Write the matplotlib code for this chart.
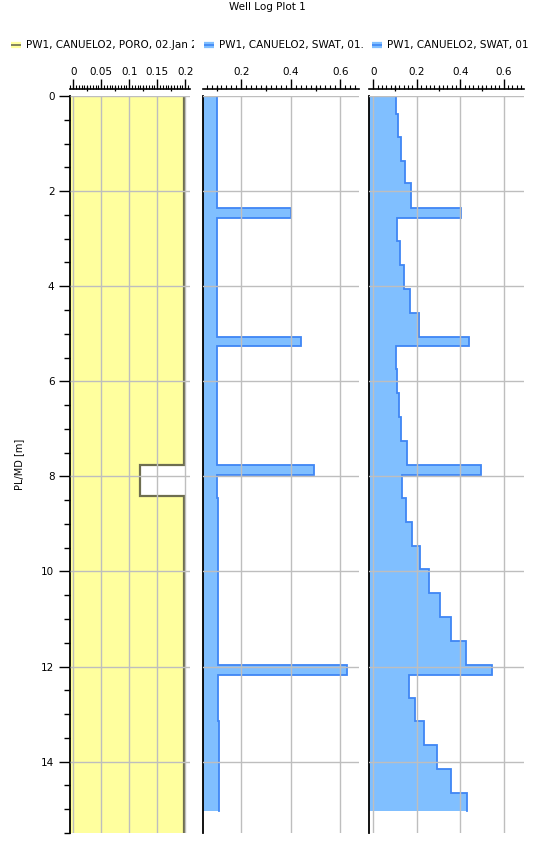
import numpy as np
import matplotlib
matplotlib.use("Agg")
import matplotlib.pyplot as plt
import matplotlib.transforms as mtransforms
from matplotlib.ticker import MultipleLocator, FixedLocator, FuncFormatter

plt.rcParams['font.family'] = ['DejaVu Sans']

# ---------------- data ----------------
title = "Well Log Plot 1"
legend_labels = ["PW1, CANUELO2, PORO, 02.Jan 2018",
                 "PW1, CANUELO2, SWAT, 01..",
                 "PW1, CANUELO2, SWAT, 01.."]
depth_label = "PL/MD [m]"

poro_top = [0.0, 7.76, 8.42]
poro_val = [0.198, 0.119, 0.198]
poro_base = 15.5

swat2_top = [0.0, 2.35, 2.56, 5.07, 5.25, 7.76, 7.98, 8.45, 11.96, 12.17, 13.15]
swat2_val = [0.100, 0.401, 0.100, 0.441, 0.100, 0.493, 0.100, 0.104, 0.627, 0.104, 0.110]
swat2_base = 15.03

swat3_top = [0.0, 0.37, 0.86, 1.36, 1.83, 2.35, 2.56, 3.05, 3.56, 4.06, 4.56, 5.07,
             5.25, 5.74, 6.25, 6.75, 7.26, 7.76, 7.98, 8.45, 8.95, 9.46, 9.95, 10.46,
             10.95, 11.46, 11.96, 12.17, 12.67, 13.15, 13.65, 14.15, 14.65]
swat3_val = [0.103, 0.112, 0.126, 0.145, 0.172, 0.405, 0.109, 0.122, 0.140, 0.168,
             0.209, 0.442, 0.103, 0.108, 0.117, 0.129, 0.155, 0.497, 0.131, 0.149,
             0.178, 0.215, 0.257, 0.308, 0.357, 0.428, 0.545, 0.165, 0.191, 0.234,
             0.294, 0.358, 0.432]
swat3_base = 15.03

track_ticks = [[0, 0.05, 0.1, 0.15, 0.2], [0.2, 0.4, 0.6], [0, 0.2, 0.4, 0.6]]
track_mid = [[0.025, 0.075, 0.125, 0.175], [0.1, 0.3, 0.5], [0.1, 0.3, 0.5]]
track_minor = [0.005, 0.02, 0.02]
track_xlim = [(-0.0064, 0.2084), (0.0465, 0.6756), (-0.0185, 0.693)]
depth_ticks = [0, 2, 4, 6, 8, 10, 12, 14]
depth_lim = (15.5, 0.0)

# ---------------- styling ----------------
W, H = 535, 844
fig = plt.figure(figsize=(W / 100, H / 100), dpi=100)

YELLOW = '#FFFF9E'
POROLINE = '#6E6E50'
BLUEFILL = '#80BFFF'
BLUELINE = '#3F86F5'
GRID = '#BEBEBE'
FS = 7.5

def px_axes(x0, y0, x1, y1):
    return fig.add_axes([x0 / W, 1 - y1 / H, (x1 - x0) / W, (y1 - y0) / H])

def step_xy(tops, vals, base):
    bounds = list(tops) + [base]
    ys = np.column_stack([bounds[:-1], bounds[1:]]).ravel()
    xs = np.repeat(vals, 2)
    return xs, ys

tracks = [
    dict(rect=(69.7, 96, 190, 833), tops=poro_top, vals=poro_val, base=poro_base,
         fill=YELLOW, line=POROLINE, lw=1.6),
    dict(rect=(203.3, 96, 359, 833), tops=swat2_top, vals=swat2_val, base=swat2_base,
         fill=BLUEFILL, line=BLUELINE, lw=1.3),
    dict(rect=(369.3, 96, 524, 833), tops=swat3_top, vals=swat3_val, base=swat3_base,
         fill=BLUEFILL, line=BLUELINE, lw=1.3),
]

def fmt(v, pos):
    s = ('%.2f' % v).rstrip('0').rstrip('.')
    return '0' if s in ('-0', '') else s

SPINE_OFF = 5
for i, tr in enumerate(tracks):
    ax = px_axes(*tr['rect'])
    xs, ys = step_xy(tr['tops'], tr['vals'], tr['base'])
    xl = track_xlim[i]
    ax.fill_betweenx(ys, xl[0], xs, color=tr['fill'], lw=0, zorder=1)
    ax.plot(xs, ys, color=tr['line'], lw=tr['lw'], zorder=2, solid_joinstyle='miter')
    ax.set_xlim(*xl)
    ax.set_ylim(*depth_lim)
    ax.set_axisbelow(False)

    ax.xaxis.tick_top()
    ax.xaxis.set_major_locator(FixedLocator(track_ticks[i]))
    ax.xaxis.set_major_formatter(FuncFormatter(fmt))
    ax.xaxis.set_minor_locator(MultipleLocator(track_minor[i]))
    ax.tick_params(axis='x', which='major', direction='out', length=7, width=1,
                   pad=1.5, labelsize=FS, colors='black')
    ax.tick_params(axis='x', which='minor', direction='out', length=3.2, width=0.8)
    ax.spines['top'].set_position(('outward', SPINE_OFF))
    ax.spines['top'].set_linewidth(1.2)
    ax.spines['right'].set_visible(False)
    ax.spines['bottom'].set_visible(False)
    ax.spines['left'].set_linewidth(1.3)

    # medium-length ticks on the offset top scale
    h_px = tr['rect'][3] - tr['rect'][1]
    trans = mtransforms.offset_copy(
        mtransforms.blended_transform_factory(ax.transData, ax.transAxes),
        fig=fig, x=0, y=SPINE_OFF, units='dots')
    for m in track_mid[i]:
        ax.plot([m, m], [1.0, 1.0 + 5.0 / h_px], color='black', lw=0.9,
                transform=trans, clip_on=False, solid_capstyle='butt')

    ax.yaxis.set_major_locator(FixedLocator(depth_ticks))
    ax.grid(True, which='major', color=GRID, lw=1, zorder=3)
    if i == 0:
        ax.yaxis.set_minor_locator(MultipleLocator(0.5))
        ax.tick_params(axis='y', which='major', direction='out', length=8, width=1,
                       labelsize=FS, pad=3)
        ax.tick_params(axis='y', which='minor', direction='out', length=4, width=1)
        ax.set_ylabel(depth_label, fontsize=7, labelpad=12)
    else:
        ax.tick_params(axis='y', which='both', left=False, labelleft=False)

# ---------------- legend row ----------------
cells = [(5, 194), (198, 364), (366, 528)]
marker_cols = [(YELLOW, POROLINE), (BLUEFILL, BLUELINE), (BLUEFILL, BLUELINE)]
for (x0, x1), lab, (c1, c2) in zip(cells, legend_labels, marker_cols):
    lax = px_axes(x0, 37, x1, 53)
    lax.set_xlim(x0, x1)
    lax.set_ylim(0, 1)
    lax.axis('off')
    mx0 = x0 + 6
    lax.plot([mx0, mx0 + 10], [0.5, 0.5], color=c1, lw=4.5, solid_capstyle='butt')
    lax.plot([mx0, mx0 + 10], [0.5, 0.5], color=c2, lw=1.2, solid_capstyle='butt')
    lax.text(mx0 + 15, 0.5, lab, fontsize=FS, va='center', ha='left', clip_on=True)

fig.text(0.5, 1 - 7 / H, title, ha='center', va='center', fontsize=FS)

fig.savefig('out.png', dpi=100)
